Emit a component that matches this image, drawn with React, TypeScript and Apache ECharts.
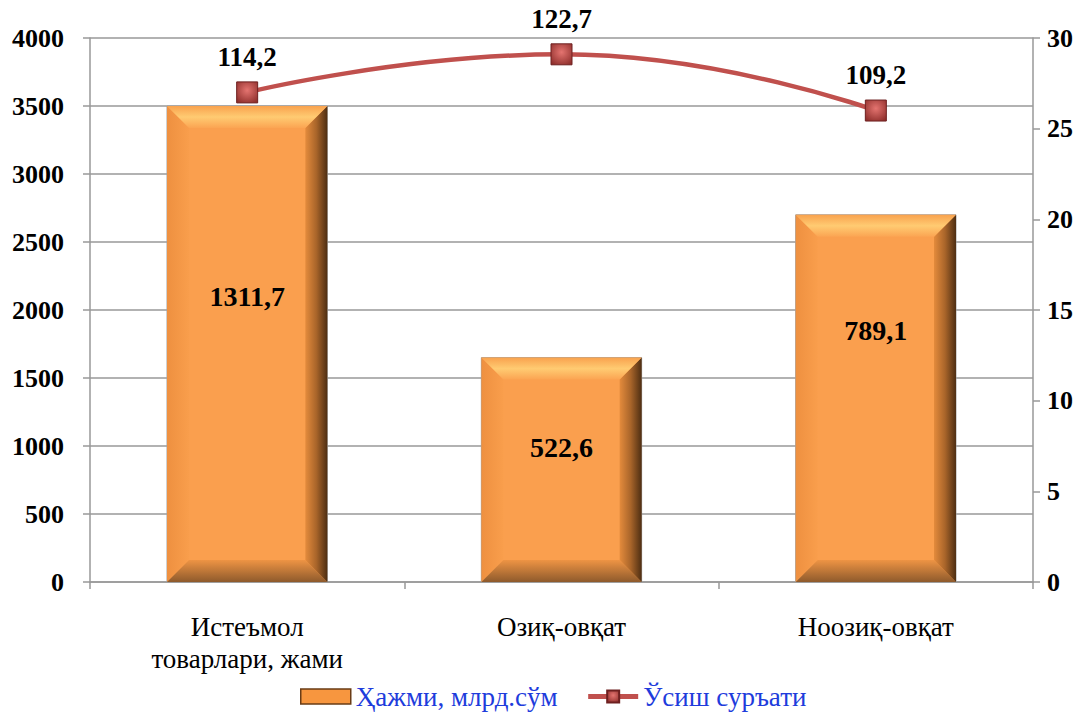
import React, { useEffect, useRef } from "react";
import * as echarts from "echarts";

const categories = ["Истеъмол\nтоварлари, жами", "Озиқ-овқат", "Ноозиқ-овқат"];
const barValues = [3500, 1650, 2700];
const barLabels = ["1311,7", "522,6", "789,1"];
const lineValues = [27, 29.1, 26];
const lineLabels = ["114,2", "122,7", "109,2"];
const leftTicks = { min: 0, max: 4000, interval: 500 };
const rightTicks = { min: 0, max: 30, interval: 5 };
const seriesNames = ["Ҳажми, млрд.сўм", "Ўсиш суръати"];

const FONT = '"Liberation Serif", "Times New Roman", serif';
// vertical placement of each bar's label, as a fraction of the bar height from its top
const LABEL_FRAC = [0.4, 0.4, 0.315];

export default function App() {
  const ref = useRef<HTMLDivElement>(null);
  useEffect(() => {
    document.body.style.margin = "0";
    const chart = echarts.init(ref.current!, null, { renderer: "svg" });
    const lin = (x1: number, y1: number, x2: number, y2: number, stops: [number, string][]) =>
      new echarts.graphic.LinearGradient(
        x1, y1, x2, y2,
        stops.map(([offset, color]) => ({ offset, color }))
      );

    const renderBar = (params: any, api: any) => {
      const idx = api.value(0);
      const val = api.value(1);
      const top = api.coord([idx, val]);
      const base = api.coord([idx, 0]);
      const catW = api.size([1, 0])[0];
      const w = catW * 0.51;
      const x0 = top[0] - w / 2;
      const x1 = top[0] + w / 2;
      const y0 = top[1];
      const y1 = base[1];
      const h = y1 - y0;
      const b = Math.min(22, h / 2);
      return {
        type: "group",
        children: [
          {
            type: "rect",
            shape: { x: x0, y: y0, width: w, height: h },
            style: { fill: "#FA9F4E", stroke: "#A0A0A0", lineWidth: 1 },
          },
          {
            type: "polygon",
            shape: { points: [[x0, y0], [x0 + b, y0 + b], [x0 + b, y1 - b], [x0, y1]] },
            style: { fill: lin(0, 0, 1, 0, [[0, "#EE9040"], [1, "#F99E4C"]]) },
          },
          {
            type: "polygon",
            shape: { points: [[x0, y1], [x0 + b, y1 - b], [x1 - b, y1 - b], [x1, y1]] },
            style: { fill: lin(0, 0, 0, 1, [[0, "#EE9444"], [1, "#8E5A2C"]]) },
          },
          {
            type: "polygon",
            shape: { points: [[x1, y0], [x1, y1], [x1 - b, y1 - b], [x1 - b, y0 + b]] },
            style: { fill: lin(0, 0, 1, 0, [[0, "#E48B3C"], [0.5, "#A9652A"], [1, "#4E2E12"]]) },
          },
          {
            type: "polygon",
            shape: { points: [[x0, y0], [x1, y0], [x1 - b, y0 + b], [x0 + b, y0 + b]] },
            style: { fill: lin(0, 0, 0, 1, [[0, "#F9A24E"], [0.5, "#FFCB72"], [1, "#FBA452"]]) },
          },
          {
            type: "text",
            style: {
              text: barLabels[idx],
              x: top[0],
              y: y0 + h * LABEL_FRAC[idx],
              align: "center",
              verticalAlign: "middle",
              font: `bold 28px ${FONT}`,
              fill: "#000",
            },
          },
        ],
      };
    };

    chart.setOption({
      animation: false,
      backgroundColor: "#fff",
      textStyle: { fontFamily: FONT },
      grid: { left: 90, right: 54, top: 38, bottom: 131 },
      legend: {
        bottom: -2,
        left: 295,
        itemGap: 28,
        textStyle: { fontFamily: FONT, fontSize: 27, color: "#1E3CDC" },
        data: [
          {
            name: seriesNames[0],
            icon: "rect",
            itemStyle: { color: "#F7963F", borderColor: "#6A3C16", borderWidth: 1.5 },
          },
          { name: seriesNames[1], lineStyle: { width: 5, color: "#C0504D" } },
        ],
        itemWidth: 50,
        itemHeight: 15,
      },
      xAxis: {
        type: "category",
        data: categories,
        boundaryGap: true,
        axisLine: { lineStyle: { color: "#999", width: 1.5 } },
        axisTick: { show: true, length: 7, lineStyle: { color: "#999", width: 1.5 } },
        axisLabel: {
          fontFamily: FONT,
          fontSize: 27,
          color: "#000",
          margin: 29,
          lineHeight: 32,
        },
      },
      yAxis: [
        {
          type: "value",
          ...leftTicks,
          axisLine: { show: true, lineStyle: { color: "#999", width: 1.5 } },
          axisTick: { show: true, length: 7, lineStyle: { color: "#999", width: 1.5 } },
          splitLine: { lineStyle: { color: "#999", width: 1.5 } },
          axisLabel: {
            fontFamily: FONT,
            fontSize: 26,
            fontWeight: "bold",
            color: "#000",
            margin: 26,
            formatter: (v: number) => String(v),
          },
        },
        {
          type: "value",
          ...rightTicks,
          position: "right",
          axisLine: { show: true, lineStyle: { color: "#999", width: 1.5 } },
          axisTick: { show: true, length: 7, lineStyle: { color: "#999", width: 1.5 } },
          splitLine: { show: false },
          axisLabel: {
            fontFamily: FONT,
            fontSize: 26,
            fontWeight: "bold",
            color: "#000",
            margin: 14,
            formatter: (v: number) => String(v),
          },
        },
      ],
      series: [
        {
          name: seriesNames[0],
          type: "custom",
          yAxisIndex: 0,
          itemStyle: { color: "#F7963F" },
          renderItem: renderBar,
          data: barValues.map((v, i) => [i, v]),
          encode: { x: 0, y: 1 },
          z: 2,
        },
        {
          name: seriesNames[1],
          type: "line",
          yAxisIndex: 1,
          data: lineValues,
          smooth: 0.5,
          lineStyle: { color: "#C0504D", width: 4.5 },
          symbol: "rect",
          symbolSize: 21,
          itemStyle: {
            color: new echarts.graphic.RadialGradient(0.5, 0.4, 0.7, [
              { offset: 0, color: "#E47470" },
              { offset: 1, color: "#8E2E2B" },
            ]),
            borderColor: "#6E2020",
            borderWidth: 1,
          },
          label: {
            show: true,
            position: "top",
            distance: 11,
            fontFamily: FONT,
            fontSize: 27,
            fontWeight: "bold",
            color: "#000",
            formatter: (p: any) => lineLabels[p.dataIndex],
          },
          z: 5,
        },
      ],
    });
    return () => chart.dispose();
  }, []);
  return (
    <div
      ref={ref}
      style={{ position: "absolute", left: 0, top: 0, width: 1087, height: 713 }}
    />
  );
}
